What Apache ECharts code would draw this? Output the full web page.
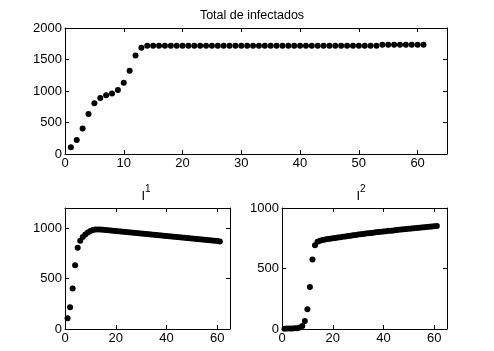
<!DOCTYPE html>
<html>
<head>
<meta charset="utf-8">
<script src="https://cdn.jsdelivr.net/npm/echarts@6/dist/echarts.min.js"></script>
<style>
html,body{margin:0;padding:0;background:#fff;}
#c{width:494px;height:351px;}
</style>
</head>
<body>
<div id="c"></div>
<script>
// Day index 1..61
const days = [];
for (let i = 1; i <= 61; i++) days.push(i);

const totalInfected = [
 108,222,405,636,806,888,932,962,1015,1132,
 1322,1565,1688,1720,1720,1720,1720,1720,1720,1720,
 1720,1720,1720,1720,1720,1720,1720,1720,1720,1720,
 1720,1720,1720,1720,1720,1720,1720,1720,1720,1720,
 1720,1720,1720,1720,1720,1720,1720,1720,1720,1720,
 1720,1720,1720,1733,1733,1733,1733,1733,1733,1733,
 1733];

const infected1 = [
 107,216,402,631,805,874,912,938,957,971,
 981,986,988,987,985,983,980,978,975,973,
 970,968,965,963,960,958,955,953,950,948,
 945,943,940,938,935,933,930,928,925,923,
 920,918,915,913,910,908,905,903,900,898,
 895,893,890,888,885,883,880,878,875,872,
 868];

const infected2 = [
 3,4,5,5,6,7,12,25,66,163,
 348,574,693,722,730,735,739,743,746,750,
 753,756,759,762,765,768,771,774,777,780,
 783,786,789,791,794,796,799,801,804,806,
 808,811,813,815,818,820,822,824,827,829,
 831,833,835,837,839,841,843,845,847,849,
 851];

const titles = ['Total de infectados', '1', '2'];

const pair = (xs, ys) => xs.map((x, i) => [x, ys[i]]);

const font = '"Liberation Sans", Arial, Helvetica, sans-serif';
const fmt = v => String(v);

function xAx(grid, interval, pos, show) {
  return {
    type: 'value', gridIndex: grid, min: 0, max: 65, interval: interval, position: pos,
    axisLine: {show: true, onZero: false, lineStyle: {color: '#000', width: 1}},
    axisTick: {show: true, inside: true, length: 4, lineStyle: {color: '#000'}},
    axisLabel: {show: show, color: '#000', fontSize: 13, fontFamily: font, margin: 3, showMaxLabel: false, formatter: fmt},
    splitLine: {show: false}
  };
}
function yAx(grid, max, interval, pos, show) {
  return {
    type: 'value', gridIndex: grid, min: 0, max: max, interval: interval, position: pos,
    axisLine: {show: true, onZero: false, lineStyle: {color: '#000', width: 1}},
    axisTick: {show: true, inside: true, length: 4, lineStyle: {color: '#000'}},
    axisLabel: {show: show, color: '#000', fontSize: 13, fontFamily: font, margin: 3, showMaxLabel: max % interval === 0, formatter: fmt},
    splitLine: {show: false}
  };
}

const supRich = {
  i: {fontSize: 13, fontFamily: font, fontWeight: 'normal', color: '#000', lineHeight: 19, verticalAlign: 'bottom'},
  s: {fontSize: 10, fontFamily: font, fontWeight: 'normal', color: '#000', lineHeight: 10, verticalAlign: 'top'}
};

const option = {
  animation: false,
  backgroundColor: '#fff',
  title: [
    {text: titles[0], left: 252, top: 9, textAlign: 'center', padding: 0,
     textStyle: {fontSize: 12.5, fontWeight: 'normal', color: '#000', fontFamily: font}},
    {text: '{i|I}{s|' + titles[1] + '}', left: 146, top: 184, textAlign: 'center', padding: 0,
     textStyle: {fontWeight: 'normal', rich: supRich}},
    {text: '{i|I}{s|' + titles[2] + '}', left: 361, top: 184, textAlign: 'center', padding: 0,
     textStyle: {fontWeight: 'normal', rich: supRich}}
  ],
  grid: [
    {left: 65, right: 47, top: 28, bottom: 197},
    {left: 65, right: 264, top: 208, bottom: 22},
    {left: 282, right: 47, top: 208, bottom: 22}
  ],
  xAxis: [
    xAx(0, 10, 'bottom', true), xAx(0, 10, 'top', false),
    xAx(1, 20, 'bottom', true), xAx(1, 20, 'top', false),
    xAx(2, 20, 'bottom', true), xAx(2, 20, 'top', false)
  ],
  yAxis: [
    yAx(0, 2000, 500, 'left', true), yAx(0, 2000, 500, 'right', false),
    yAx(1, 1200, 500, 'left', true), yAx(1, 1200, 500, 'right', false),
    yAx(2, 1000, 500, 'left', true), yAx(2, 1000, 500, 'right', false)
  ],
  series: [
    {type: 'scatter', xAxisIndex: 0, yAxisIndex: 0, data: pair(days, totalInfected),
     symbol: 'circle', symbolSize: 6, itemStyle: {color: '#000', opacity: 1}},
    {type: 'scatter', xAxisIndex: 2, yAxisIndex: 2, data: pair(days, infected1),
     symbol: 'circle', symbolSize: 6, itemStyle: {color: '#000', opacity: 1}},
    {type: 'scatter', xAxisIndex: 4, yAxisIndex: 4, data: pair(days, infected2),
     symbol: 'circle', symbolSize: 6, itemStyle: {color: '#000', opacity: 1}}
  ]
};

const chart = echarts.init(document.getElementById('c'), null, {renderer: 'canvas'});
chart.setOption(option);
</script>
</body>
</html>
